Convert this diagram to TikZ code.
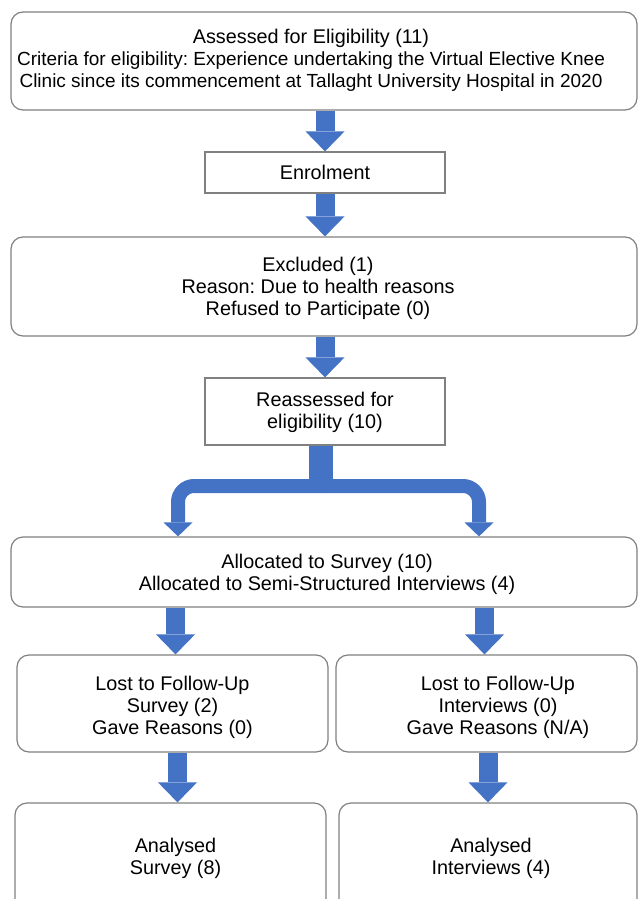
\documentclass[tikz,border=0pt]{standalone}
\usepackage{fontspec}
\setmainfont{Liberation Sans}
\usetikzlibrary{arrows.meta}
\definecolor{boxline}{RGB}{128,128,128}
\definecolor{arrowblue}{RGB}{68,114,196}

\begin{document}
\begin{tikzpicture}[x=1pt, y=-1pt,
  font=\frenchspacing\fontsize{19.8}{22}\selectfont,
  roundbox/.style={draw=boxline, line width=1.2pt, rounded corners=12pt, inner sep=0pt},
  flatbox/.style={draw=boxline, line width=1.2pt, inner sep=0pt},
  txt/.style={align=center, inner sep=0pt, yshift=-2pt},
  bigarrow/.style={draw=arrowblue, line width=19pt, -{Triangle[width=39pt, length=20pt, line width=0pt]}},
  branch/.style={draw=arrowblue, line width=14pt, rounded corners=16pt, -{Triangle[width=29pt, length=14pt, line width=0pt]}}]
  \clip (0,0) rectangle (638,899);
  % boxes
  \node[roundbox, minimum width=626pt, minimum height=98pt] (assess) at (324,61) {};
  \node[flatbox, minimum width=240pt, minimum height=41pt] (enrol) at (325,172.5) {};
  \node[roundbox, minimum width=626pt, minimum height=99pt] (excl) at (324,286.5) {};
  \node[flatbox, minimum width=240pt, minimum height=67pt] (reass) at (325,411.5) {};
  \node[roundbox, minimum width=626pt, minimum height=70pt] (alloc) at (324,572) {};
  \node[roundbox, minimum width=311pt, minimum height=97pt] (lostS) at (172.5,703.5) {};
  \node[roundbox, minimum width=301pt, minimum height=97pt] (lostI) at (486.5,703.5) {};
  \node[roundbox, minimum width=311pt, minimum height=110pt] (anaS) at (170.5,858) {};
  \node[roundbox, minimum width=298pt, minimum height=110pt] (anaI) at (488,858) {};
  % texts
  \node[txt] (assessT) at ([xshift=-13pt, yshift=3pt]assess.center)
    {Assessed for Eligibility (11)\\\fontsize{19}{22}\selectfont Criteria for eligibility: Experience undertaking the Virtual Elective Knee\\\fontsize{19}{22}\selectfont Clinic since its commencement at Tallaght University Hospital in 2020};
  \node[txt, yshift=2pt] (enrolT) at (enrol.center) {Enrolment};
  \node[txt] (exclT) at ([xshift=-6pt]excl.center)
    {Excluded (1)\\Reason: Due to health reasons\\Refused to Participate (0)};
  \node[txt] (reassT) at ([yshift=1pt]reass.center) {Reassessed for\\eligibility (10)};
  \node[txt] (allocT) at ([xshift=3pt]alloc.center)
    {Allocated to Survey (10)\\Allocated to Semi-Structured Interviews (4)};
  \node[txt] (lostST) at ([yshift=-1.5pt]lostS.center) {Lost to Follow-Up\\Survey (2)\\Gave Reasons (0)};
  \node[txt] (lostIT) at ([xshift=11.5pt, yshift=-1.5pt]lostI.center) {Lost to Follow-Up\\Interviews (0)\\Gave Reasons (N/A)};
  \node[txt] (anaST) at ([xshift=5pt, yshift=2pt]anaS.center) {Analysed\\Survey (8)};
  \node[txt] (anaIT) at ([xshift=3pt, yshift=2pt]anaI.center) {Analysed\\Interviews (4)};
  % arrows
  \draw[bigarrow] (enrol.north |- assess.south) -- (enrol.north);
  \draw[bigarrow] (enrol.south) -- (enrol.south |- excl.north);
  \draw[bigarrow] (reass.north |- excl.south) -- (reass.north);
  % split arrow
  \coordinate (split) at ([xshift=-4pt]reass.south |- 0,486);
  \draw[arrowblue, line width=24pt] ([xshift=-4pt]reass.south) -- ([yshift=-4pt]split);
  \draw[branch] (split) -| ([xshift=-146pt]alloc.north);
  \draw[branch] (split) -| ([xshift=155pt]alloc.north);
  \draw[bigarrow] ([xshift=3pt]lostS.north |- alloc.south) -- ([xshift=3pt]lostS.north);
  \draw[bigarrow] ([xshift=-2pt]lostI.north |- alloc.south) -- ([xshift=-2pt]lostI.north);
  \draw[bigarrow] ([xshift=5pt]lostS.south) -- ([xshift=5pt]lostS.south |- anaS.north);
  \draw[bigarrow] (anaI.north |- lostI.south) -- (anaI.north);
\end{tikzpicture}
\end{document}
